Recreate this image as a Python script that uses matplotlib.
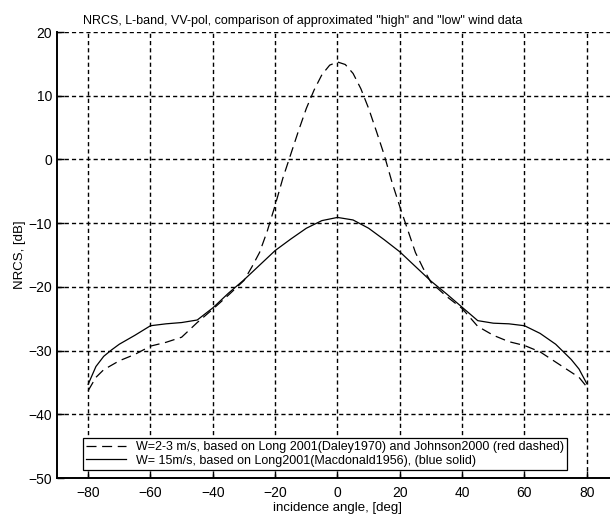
import numpy as np
import matplotlib
matplotlib.use("Agg")
import matplotlib.pyplot as plt

# low wind (dashed) curve
ang_low = [-80, -77.5, -75, -70, -65, -60, -55, -50, -45, -40, -35, -30, -27.5, -25,
           -22.5, -20, -17.5, -15, -12.5, -10, -7.5, -5, -2.5, 0, 2.5, 5, 7.5, 10,
           12.5, 15, 17.5, 20, 22.5, 25, 27.5, 30, 35, 40, 45, 50, 55, 60, 65, 70,
           75, 77.5, 80]
nrcs_low = [-36.3, -34.2, -33.0, -31.6, -30.6, -29.3, -28.7, -27.9, -25.6, -23.5,
            -21.3, -19.0, -16.9, -14.6, -11.2, -7.2, -2.9, 0.8, 4.5, 8.0, 10.9,
            13.3, 14.8, 15.3, 14.9, 13.5, 11.1, 8.0, 4.4, 0.7, -3.6, -7.4, -11.0,
            -14.6, -17.1, -19.3, -21.5, -23.4, -26.2, -27.6, -28.6, -29.2, -30.2,
            -31.8, -33.4, -34.2, -35.7]

# high wind (solid) curve
ang_high = [-80, -77.5, -75, -72.5, -70, -65, -60, -55, -50, -45, -40, -35, -30,
            -25, -20, -15, -10, -5, 0, 5, 10, 15, 20, 25, 30, 35, 40, 45, 50, 55,
            60, 65, 70, 75, 77.5, 80]
nrcs_high = [-35.3, -32.5, -30.9, -29.9, -29.0, -27.6, -26.1, -25.8, -25.6, -25.2,
             -23.3, -21.0, -18.9, -16.6, -14.3, -12.5, -10.8, -9.6, -9.1, -9.5,
             -10.8, -12.6, -14.5, -16.8, -19.1, -21.1, -23.2, -25.3, -25.7, -25.8,
             -26.1, -27.3, -29.0, -31.4, -32.9, -35.2]

xticks = [-80, -60, -40, -20, 0, 20, 40, 60, 80]
yticks = [-50, -40, -30, -20, -10, 0, 10, 20]

lab_low = "W=2-3 m/s, based on Long 2001(Daley1970) and Johnson2000 (red dashed)"
lab_high = "W= 15m/s, based on Long2001(Macdonald1956), (blue solid)"

plt.rcParams["font.family"] = ["Liberation Sans", "DejaVu Sans"]

fig = plt.figure(figsize=(6.10, 5.18), dpi=100)
ax = fig.add_axes([0.0934, 0.0772, 0.9197, 0.861])

ax.plot(ang_low, nrcs_low, color="black", lw=0.9, dashes=(8, 4.5), label=lab_low)
ax.plot(ang_high, nrcs_high, color="black", lw=0.9, label=lab_high)

ax.set_xlim(-90, 90)
ax.set_ylim(-50, 20)
ax.set_xticks(xticks)
ax.set_yticks(yticks)
ax.grid(True, color="black", lw=1.0, linestyle=(0, (3, 2.2)))
ax.tick_params(direction="in", length=5, width=1.0, labelsize=10, colors="black")
ax.tick_params(axis="x", pad=6)
for s in ["top", "right"]:
    ax.spines[s].set_visible(False)
for s in ["left", "bottom"]:
    ax.spines[s].set_linewidth(1.4)

ax.set_title('NRCS, L-band, VV-pol, comparison of approximated "high" and "low" wind data',
             fontsize=9, pad=6, x=0.4385)
ax.set_xlabel("incidence angle, [deg]", fontsize=9.5, labelpad=1)
ax.set_ylabel("NRCS, [dB]", fontsize=9.5, labelpad=2)

leg = ax.legend(loc="lower left", bbox_to_anchor=(0.046, 0.018), fontsize=9,
                fancybox=False, framealpha=1, edgecolor="black", borderpad=0.25,
                handlelength=3.2, labelspacing=0.15, borderaxespad=0)
leg.get_frame().set_linewidth(0.9)

fig.savefig("out.png", dpi=100)
